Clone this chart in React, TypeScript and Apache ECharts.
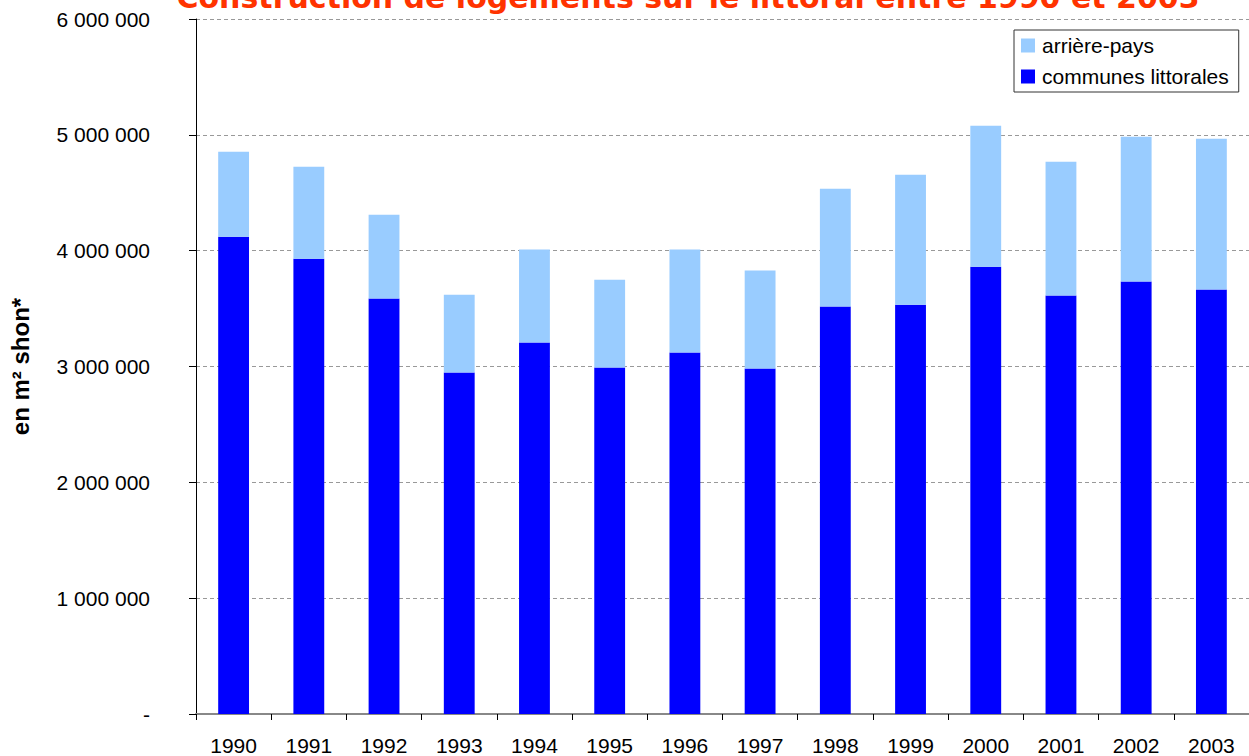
import React, { useEffect, useRef } from "react";
import * as echarts from "echarts";

const years = ["1990","1991","1992","1993","1994","1995","1996","1997","1998","1999","2000","2001","2002","2003"];
const communesLittorales = [4120000,3930000,3586000,2948000,3207000,2991000,3121000,2983000,3517000,3534000,3862000,3612000,3733000,3664000];
const totals = [4853000,4724000,4310000,3620000,4009000,3750000,4009000,3828000,4534000,4655000,5078000,4767000,4983000,4966000];
const arrierePays = totals.map((t, i) => t - communesLittorales[i]);

const FONT = "'Liberation Sans', Arial, sans-serif";

function fmt(v: number): string {
  if (v === 0) return "-";
  return String(v).replace(/\B(?=(\d{3})+(?!\d))/g, " ");
}

export default function App() {
  const ref = useRef<HTMLDivElement>(null);
  useEffect(() => {
    if (!ref.current) return;
    const chart = echarts.init(ref.current, null, { renderer: "svg" });
    chart.setOption({
      animation: false,
      backgroundColor: "#ffffff",
      title: {
        text: "Construction de logements sur le littoral entre 1990 et 2003",
        left: 683,
        textAlign: "center",
        top: -23,
        textStyle: { color: "#FF3300", fontSize: 30, fontWeight: "bold", fontFamily: "'DejaVu Sans', sans-serif" },
      },
      legend: {
        orient: "vertical",
        left: 1014,
        top: 30,
        data: ["arrière-pays", "communes littorales"],
        backgroundColor: "#ffffff",
        borderColor: "#333",
        borderWidth: 1,
        padding: [5, 10, 5, 7],
        itemGap: 10,
        itemWidth: 14,
        itemHeight: 14,
        icon: "rect",
        textStyle: { fontSize: 21, color: "#000", fontFamily: FONT, padding: [0, 0, 0, 2] },
      },
      grid: { left: 194, top: 19, width: 1065.4, height: 696 },
      xAxis: {
        type: "category",
        data: years,
        boundaryGap: true,
        axisLine: { lineStyle: { color: "#888", width: 2 } },
        axisTick: { show: true, length: 6, lineStyle: { color: "#000" } },
        axisLabel: { color: "#000", fontSize: 21, fontFamily: FONT, margin: 21 },
      },
      yAxis: {
        type: "value",
        min: 0,
        max: 6000000,
        interval: 1000000,
        name: "en m² shon*",
        nameLocation: "middle",
        nameGap: 164,
        nameTextStyle: { fontSize: 24, fontWeight: "bold", color: "#000", fontFamily: FONT },
        axisLine: { show: true, lineStyle: { color: "#000", width: 1 } },
        axisTick: { show: true, length: 7, inside: false, lineStyle: { color: "#000" } },
        axisLabel: {
          color: "#000",
          fontSize: 21,
          fontFamily: FONT,
          margin: 46,
          formatter: (v: number) => fmt(v),
        },
        splitLine: { show: true, lineStyle: { color: "#999", type: [4, 3], width: 1 } },
      },
      series: [
        {
          name: "communes littorales",
          type: "bar",
          stack: "total",
          data: communesLittorales,
          barWidth: "41%",
          itemStyle: { color: "#0000FF" },
        },
        {
          name: "arrière-pays",
          type: "bar",
          stack: "total",
          data: arrierePays,
          barWidth: "41%",
          itemStyle: { color: "#99CCFF" },
        },
      ],
    });
    return () => chart.dispose();
  }, []);
  return (
    <div
      ref={ref}
      style={{ position: "fixed", left: 0, top: 0, width: 1249, height: 756, background: "#fff" }}
    />
  );
}
